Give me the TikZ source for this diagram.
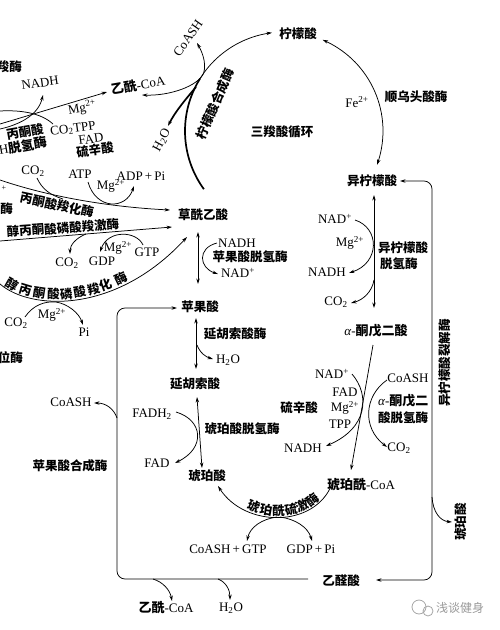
\documentclass[tikz,border=0pt]{standalone}
\usepackage{fontspec}
\setmainfont{Liberation Serif}
\newfontfamily\cjk{Noto Sans CJK SC}
\usetikzlibrary{arrows.meta}
\newcommand{\zz}[1]{{\cjk\bfseries #1}}
\begin{document}
\begin{tikzpicture}[x=1pt,y=-1pt,
  every node/.style={inner sep=0pt,outer sep=0pt},
  la/.style={font=\fontsize{13}{13}\selectfont},
  zh/.style={font=\cjk\bfseries\fontsize{12.5}{13}\selectfont},
  small/.style={font=\fontsize{8}{8}\selectfont},
  ln/.style={line width=0.75pt},
  thk/.style={line width=1.7pt},
  >={Stealth[length=5.5pt,width=3.4pt]},
  wm/.style={font=\cjk\fontsize{12}{13}\selectfont, text=black!40}
]
\useasboundingbox (0,0) rectangle (500,630);

% ---------------- top-left: pyruvate dehydrogenase
\node[zh, anchor=east] (tl1) at (22,67) {羧酶};
\node[la, rotate=8] (nadh1) at (40,83) {NADH};
\node[la, rotate=10] (accoa1) at (138,85) {\zz{乙酰}-CoA};
\node[la, rotate=55] (coash1) at (188,38) {CoASH};
\node[la, rotate=10] (mg1) at (82,108) {Mg\textsuperscript{2+}};
\node[la, rotate=8] (co2tpp) at (73,129) {CO\textsubscript{2}TPP};
\node[la, rotate=8] (fad1) at (91,139) {FAD};
\node[zh, rotate=8] (lipo1) at (95,150) {硫辛酸};
\node[zh, rotate=10] (pdh1) at (25,132) {丙酮酸};
\node[la, rotate=10, anchor=west] (pdh2) at (-1,150) {H\zz{脱氢酶}};
\node[la, rotate=62] (h2o1) at (162,140) {H\textsubscript{2}O};
\node[zh, rotate=67] (cs) at (215,104) {柠檬酸合成酶};

\coordinate (pdhA) at (0,124);
\coordinate (pdhB) at (107,92);
\draw[ln,->] (pdhA) -- (pdhB);
\coordinate (nadA) at (0,129);
\coordinate (nadB) at (43,95);
\draw[ln,->] (nadA) .. controls (18,125) and (38,116) .. (nadB);
\coordinate (co2A) at (0,111);
\coordinate (co2B) at (53,124);
\draw[ln] (co2A) .. controls (18,110) and (40,112) .. (co2B);

% ---------------- TCA circle
\node[zh] (cit) at (298,34) {柠檬酸};
\node[zh] (aco) at (416,97) {顺乌头酸酶};
\node[la] (fe) at (357,102) {Fe\textsuperscript{2+}};
\node[zh] (tca) at (282,132) {三羧酸循环};
\node[zh] (icit) at (372,181) {异柠檬酸};

\draw[thk] plot[smooth,domain=144:212,samples=25] ({284+99*cos(\x)},{131+99*sin(\x)});
\draw[ln,->] plot[smooth,domain=210:263,samples=25] ({284+99*cos(\x)},{131+99*sin(\x)});
\draw[ln,<->] plot[smooth,domain=293:380,samples=35] ({284+99*cos(\x)},{131+99*sin(\x)});

\coordinate (acA) at (142,95);
\coordinate (csJ) at (203.6,73.3);
\coordinate (cshT) at (197,43);
\draw[ln,<->] (acA) .. controls (170,96) and (198,86) .. (csJ) .. controls (207,62) and (201,50) .. (cshT);
\coordinate (h2oJ) at (196,87);
\coordinate (h2oT) at (168,126);
\draw[thk,->] (h2oJ) .. controls (185,100) and (175,112) .. (h2oT);

% ---------------- pyruvate carboxylase
\node[la] (co2a) at (33,171) {CO\textsubscript{2}};
\node[la] (atp) at (80,174) {ATP};
\node[la] (adp) at (141,176) {ADP\,+\,Pi};
\node[la] (mg2) at (111,186) {Mg\textsuperscript{2+}};
\node[small] (plus1) at (4,188) {+};
\node[zh, rotate=-12] (pc) at (57,205) {丙酮酸羧化酶};
\node[zh, anchor=east] (mei1) at (13,209) {酶};
\node[zh] (oaa) at (203,215) {草酰乙酸};

\coordinate (pcA) at (0,180);
\coordinate (pcB) at (170,210);
\draw[ln,->] (pcA) .. controls (50,197) and (110,207) .. (pcB);
\draw[ln] (37,178) .. controls (42,189) and (50,195) .. (63,199);
\draw[ln,->] (88,182) .. controls (96,210) and (126,210) .. (134,186);

% ---------------- PEP carboxykinase
\node[zh, rotate=4] (pepck) at (63,228) {醇丙酮酸磷酸羧激酶};
\node[la] (co2b) at (67,263) {CO\textsubscript{2}};
\node[la] (gdp) at (102,261) {GDP};
\node[la] (mg3) at (118,248) {Mg\textsuperscript{2+}};
\node[la] (gtp) at (147,252) {GTP};
\coordinate (pkA) at (0,241);
\coordinate (pkB) at (172,227);
\draw[ln,->] (pkA) -- (pkB);
\draw[ln,->] (86,234) .. controls (76,238) and (70,245) .. (70,254);
\draw[ln,->] (143,245) .. controls (137,231) and (108,229) .. (100,252);

% ---------------- PEP carboxylase
\coordinate (ppA) at (0,284);
\coordinate (ppB) at (187,237);
\draw[ln,->] (ppA) .. controls (30,310) and (115,315) .. (ppB)
  node[zh,pos=0.085,sloped,above=1pt]{醇}
  node[zh,pos=0.2,sloped,above=1pt]{丙}
  node[zh,pos=0.29,sloped,above=1pt]{酮}
  node[zh,pos=0.375,sloped,above=1pt]{酸}
  node[zh,pos=0.445,sloped,above=1pt]{磷}
  node[zh,pos=0.515,sloped,above=1pt]{酸}
  node[zh,pos=0.585,sloped,above=1pt]{羧}
  node[zh,pos=0.645,sloped,above=1pt]{化}
  node[zh,pos=0.715,sloped,above=1pt]{酶};
\node[la] (co2c) at (16,323) {CO\textsubscript{2}};
\node[la] (mg4) at (52,315) {Mg\textsuperscript{2+}};
\node[la] (pi1) at (84,332) {Pi};
\draw[ln,->] (25,317) .. controls (33,305) and (45,301) .. (56,302) .. controls (68,304) and (79,313) .. (83,325);
\node[zh, anchor=east] (wei) at (23,358) {位酶};

% ---------------- malate dehydrogenase
\node[la] (nadh2) at (237,243) {NADH};
\node[zh] (mdh) at (250,257) {苹果酸脱氢酶};
\node[la] (nad2) at (238,273) {NAD\textsuperscript{+}};
\node[zh] (mal) at (200,307) {苹果酸};
\coordinate (mdT) at (198,232);
\coordinate (mdB) at (198,284);
\draw[ln,<->] (mdT) -- (mdB);
\draw[ln,->] (217,243) .. controls (197,248) and (199,268) .. (218,274);

% ---------------- fumarase
\node[zh] (fumase) at (235,334) {延胡索酸酶};
\node[la] (h2o2) at (228,360) {H\textsubscript{2}O};
\node[zh] (fum) at (195,384) {延胡索酸};
\draw[ln,<->] (196,318) -- (196,369);
\draw[ln,->] (197,345) .. controls (200,353) and (206,357) .. (213,359);

% ---------------- succinate dehydrogenase
\node[la] (fadh2) at (152,414) {FADH\textsubscript{2}};
\node[zh] (sdh) at (242,429) {琥珀酸脱氢酶};
\node[la] (fad2) at (157,463) {FAD};
\node[zh] (succ) at (207,476) {琥珀酸};
\draw[ln,<->] (197,397) -- (202,468);
\draw[ln,->] (176,412) .. controls (203,420) and (206,448) .. (175,463);

% ---------------- succinyl-CoA synthetase
\node[la] (succoa) at (361,485) {\zz{琥珀酰}-CoA};
\coordinate (skA) at (218,486);
\coordinate (skB) at (332,484);
\draw[ln,<-] (skA) .. controls (245,528) and (315,528) .. (skB)
  node[zh,pos=0.3,sloped,above=0.5pt]{琥}
  node[zh,pos=0.4,sloped,above=0.5pt]{珀}
  node[zh,pos=0.5,sloped,above=0.5pt]{酰}
  node[zh,pos=0.6,sloped,above=0.5pt]{硫}
  node[zh,pos=0.7,sloped,above=0.5pt]{激}
  node[zh,pos=0.8,sloped,above=0.5pt]{酶};
\node[la] (cgtp) at (228,549) {CoASH\,+\,GTP};
\node[la] (gdppi) at (311,549) {GDP\,+\,Pi};
\draw[ln,->] (277,517) .. controls (262,519) and (250,527) .. (247,541);
\draw[ln,->] (280,517) .. controls (295,519) and (308,527) .. (312,541);

% ---------------- isocitrate dehydrogenase
\node[la] (nad3) at (335,219) {NAD\textsuperscript{+}};
\node[la] (mg5) at (350,243) {Mg\textsuperscript{2+}};
\node[la] (nadh3) at (327,272) {NADH};
\node[la] (co2d) at (336,302) {CO\textsubscript{2}};
\node[zh, anchor=west] (icdh1) at (378,248) {异柠檬酸};
\node[zh, anchor=west] (icdh2) at (380,264) {脱氢酶};
\node[la] (akg) at (376,331) {\textit{α}-\zz{酮戊二酸}};
\draw[ln,<->] (374,195) -- (374,308);
\draw[ln,->] (355,220) .. controls (380,228) and (380,263) .. (349,273);
\draw[ln,->] (374,280) .. controls (372,292) and (363,300) .. (351,303);

% ---------------- alpha-ketoglutarate dehydrogenase
\node[la] (nad4) at (332,374) {NAD\textsuperscript{+}};
\node[la] (fad3) at (345,392) {FAD};
\node[la] (mg6) at (345,408) {Mg\textsuperscript{2+}};
\node[la] (tpp) at (340,424) {TPP};
\node[zh] (lipo2) at (299,408) {硫辛酸};
\node[la] (nadh4) at (303,448) {NADH};
\node[la] (coash3) at (408,378) {CoASH};
\node[la, anchor=west] (akgdh1) at (378,401) {\textit{α}-\zz{酮戊二}};
\node[zh, anchor=west] (akgdh2) at (378,418) {酸脱氢酶};
\node[la] (co2e) at (399,448) {CO\textsubscript{2}};
\draw[ln,->] (373,345) -- (351,470);
\draw[ln,->] (352,374) .. controls (370,395) and (368,428) .. (326,446);
\draw[ln,->] (387,380) .. controls (364,396) and (362,428) .. (387,447);

% ---------------- glyoxylate cycle
\node[zh] (glyox) at (341,581) {乙醛酸};
\node[la] (accoa2) at (166,608) {\zz{乙酰}-CoA};
\node[la] (h2o3) at (231,608) {H\textsubscript{2}O};
\node[la] (coash2) at (71,402) {CoASH};
\node[zh] (ms) at (70,466) {苹果酸合成酶};
\node[zh, rotate=90] (icl) at (445,363) {异柠檬酸裂解酶};
\node[zh, rotate=90] (succ2) at (461,522) {琥珀酸};

\draw[ln,->,rounded corners=8pt] (308,579) -- (117,579) -- (117,308) -- (177,308);
\draw[ln,<->,rounded corners=8pt] (376,580) -- (432,580) -- (432,181) -- (400,181);
\draw[ln,->] (432,497) .. controls (433,512) and (440,521) .. (452,522);
\draw[ln,->] (117,418) .. controls (114,409) and (106,403) .. (94,403);
\draw[ln,->] (153,579) .. controls (163,582) and (170,590) .. (172,601);
\draw[ln,->] (218,579) .. controls (226,582) and (230,590) .. (230,600);

% ---------------- watermark
\draw[black!35, line width=0.8pt] (419,607) circle[radius=7pt];
\draw[black!35, line width=0.8pt] (428,611) circle[radius=5pt];
\node[wm] (wmt) at (460,608) {浅谈健身};
\end{tikzpicture}
\end{document}
